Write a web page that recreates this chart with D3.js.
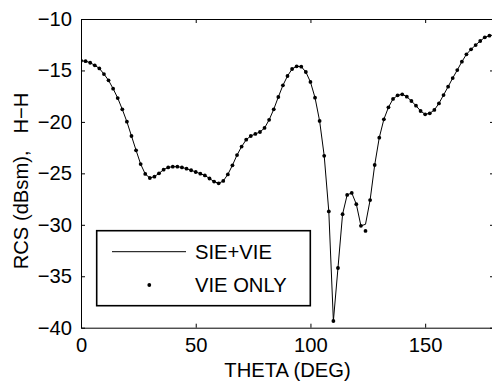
<!DOCTYPE html>
<html>
<head>
<meta charset="utf-8">
<script src="https://cdn.jsdelivr.net/npm/d3@7"></script>
<style>
  body { margin: 0; background: #fff; }
  text { font-family: "Liberation Sans", Arial, sans-serif; fill: #000; }
</style>
</head>
<body>
<script>
// theta in degrees, every 2 deg
const theta = d3.range(0, 181, 2);

// SIE+VIE (solid line), dBsm
const sieVie = [
  -14.05, -14.10, -14.25, -14.50, -14.80, -15.35, -15.96, -16.77, -17.68, -18.78,
  -19.98, -21.37, -22.76, -24.10, -25.06, -25.45, -25.32, -25.00, -24.64, -24.42,
  -24.35, -24.35, -24.42, -24.55, -24.70, -24.87, -25.03, -25.20, -25.50, -25.80,
  -25.97, -25.74, -25.10, -24.22, -23.22, -22.40, -21.73, -21.37, -21.17, -20.98,
  -20.59, -19.80, -18.78, -17.58, -16.45, -15.54, -14.86, -14.60, -14.63, -15.15,
  -16.12, -17.65, -19.91, -23.30, -28.70, -39.35, -34.20, -28.97, -27.10, -26.90,
  -28.00, -30.10, -29.95, -27.60, -24.19, -21.53, -19.75, -18.58, -17.77, -17.42,
  -17.32, -17.55, -17.97, -18.42, -18.94, -19.26, -19.17, -18.84, -18.20, -17.39,
  -16.58, -15.74, -14.96, -14.15, -13.43, -12.95, -12.53, -12.14, -11.78, -11.62,
  -11.55
];

// VIE ONLY (dots)
const vieOnly = [
  -14.05, -14.10, -14.25, -14.50, -14.80, -15.35, -15.96, -16.77, -17.68, -18.78,
  -19.98, -21.37, -22.76, -24.10, -25.06, -25.45, -25.32, -25.00, -24.64, -24.42,
  -24.35, -24.35, -24.42, -24.55, -24.70, -24.87, -25.03, -25.20, -25.50, -25.80,
  -25.97, -25.74, -25.10, -24.22, -23.22, -22.40, -21.73, -21.37, -21.17, -20.98,
  -20.59, -19.80, -18.78, -17.58, -16.45, -15.54, -14.86, -14.60, -14.63, -15.15,
  -16.12, -17.65, -19.91, -23.30, -28.70, -39.35, -34.20, -28.97, -27.10, -26.90,
  -28.00, -30.10, -30.60, -27.60, -24.19, -21.53, -19.75, -18.58, -17.77, -17.42,
  -17.32, -17.55, -17.97, -18.42, -18.94, -19.26, -19.17, -18.84, -18.20, -17.39,
  -16.58, -15.74, -14.96, -14.15, -13.43, -12.95, -12.53, -12.14, -11.78, -11.62,
  -11.55
];

const xTicks = [0, 50, 100, 150];
const yTicks = [-10, -15, -20, -25, -30, -35, -40];
const legendLabels = ["SIE+VIE", "VIE ONLY"];

const width = 492, height = 385;
const fontSize = 20.2;

const svg = d3.select("body").append("svg")
    .attr("width", width)
    .attr("height", height);

// plot box (right edge falls just outside the picture)
const x = d3.scaleLinear().domain([0, 180]).range([81, 494]);
const y = d3.scaleLinear().domain([-40, -10]).range([327.7, 19]);

// clip so the curves stay in the box
svg.append("clipPath").attr("id", "clip")
  .append("rect")
    .attr("x", x(0)).attr("y", y(-10))
    .attr("width", x(180) - x(0)).attr("height", y(-40) - y(-10));

// bottom axis + inward ticks
svg.append("g")
    .attr("transform", `translate(0,${y(-40)})`)
    .call(d3.axisBottom(x).tickValues(xTicks).tickSizeInner(-4).tickSizeOuter(0).tickPadding(10))
    .call(g => g.selectAll("text").style("font-size", fontSize + "px"));

// top axis (ticks only)
svg.append("g")
    .attr("transform", `translate(0,${y(-10)})`)
    .call(d3.axisTop(x).tickValues(xTicks).tickSizeInner(-4).tickSizeOuter(0).tickFormat(""));

// left axis
svg.append("g")
    .attr("transform", `translate(${x(0)},0)`)
    .call(d3.axisLeft(y).tickValues(yTicks).tickSizeInner(-4).tickSizeOuter(0).tickPadding(9)
      .tickFormat(d => d3.format("d")(d).replace("-", "\u2212")))
    .call(g => g.selectAll("text").style("font-size", fontSize + "px"));

// right axis (ticks only)
svg.append("g")
    .attr("transform", `translate(${x(180)},0)`)
    .call(d3.axisRight(y).tickValues(yTicks).tickSizeInner(-4).tickSizeOuter(0).tickFormat(""));

svg.selectAll(".tick text").attr("font-family", null);
svg.selectAll(".domain, .tick line").attr("stroke", "#000");

// SIE+VIE line
const lineGen = d3.line()
    .x((d, i) => x(theta[i]))
    .y(d => y(d));

svg.append("path")
    .datum(sieVie)
    .attr("clip-path", "url(#clip)")
    .attr("fill", "none")
    .attr("stroke", "#000")
    .attr("stroke-width", 1)
    .attr("d", lineGen);

// VIE ONLY dots
svg.append("g")
    .attr("clip-path", "url(#clip)")
  .selectAll("circle")
    .data(vieOnly)
    .enter().append("circle")
    .attr("cx", (d, i) => x(theta[i]))
    .attr("cy", d => y(d))
    .attr("r", 1.9)
    .attr("fill", "#000");

// axis labels
svg.append("text")
    .attr("x", (x(0) + x(180)) / 2)
    .attr("y", 377)
    .attr("text-anchor", "middle")
    .style("font-size", fontSize + "px")
    .text("THETA (DEG)");

svg.append("text")
    .attr("transform", "translate(28,181) rotate(-90)")
    .attr("text-anchor", "middle")
    .attr("xml:space", "preserve")
    .style("white-space", "pre")
    .style("font-size", fontSize + "px")
    .text("RCS (dBsm),   H\u2212H");

// legend
const legend = svg.append("g");
legend.append("rect")
    .attr("x", 96.7).attr("y", 230.7)
    .attr("width", 213.6).attr("height", 75)
    .attr("fill", "#fff")
    .attr("stroke", "#000")
    .attr("stroke-width", 1.6);

legend.append("line")
    .attr("x1", 112).attr("x2", 186)
    .attr("y1", 251.7).attr("y2", 251.7)
    .attr("stroke", "#000").attr("stroke-width", 1);

legend.append("circle")
    .attr("cx", 149.3).attr("cy", 285)
    .attr("r", 1.9).attr("fill", "#000");

legend.selectAll("text.lg")
    .data(legendLabels)
    .enter().append("text")
    .attr("class", "lg")
    .attr("x", 195)
    .attr("y", (d, i) => i === 0 ? 251.7 : 285)
    .attr("dy", "0.35em")
    .style("font-size", fontSize + "px")
    .text(d => d);
</script>
</body>
</html>
